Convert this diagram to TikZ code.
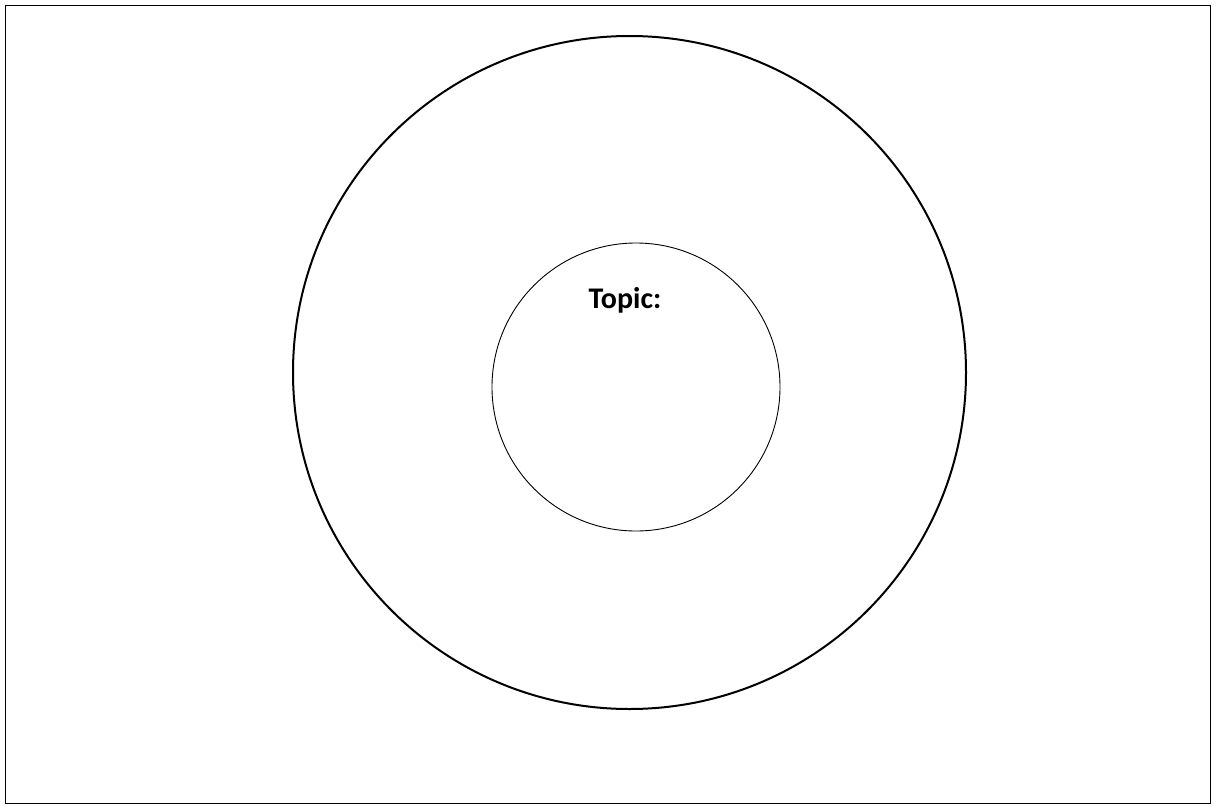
\documentclass[tikz,border=0pt]{standalone}
\usepackage{fontspec}
\setmainfont{Carlito}
\begin{document}
\begin{tikzpicture}[x=1pt,y=-1pt,
  frame/.style={draw=black,line width=1.3pt},
  outerring/.style={draw=black,line width=2pt},
  innerring/.style={draw=black,line width=0.9pt},
  label/.style={font=\fontsize{30}{34}\selectfont\bfseries,anchor=base,inner sep=0pt}]
\useasboundingbox (0,0) rectangle (1216,806);
\draw[frame] (5.5,5.5) rectangle (1210.5,803.5);
\node[outerring,circle,minimum size=673pt,inner sep=0pt] (outer) at (629.5,372.5) {};
\node[innerring,circle,minimum size=288pt,inner sep=0pt] (inner) at (636,387) {};
\node[label] (topic) at (625,308) {Topic:};
\end{tikzpicture}
\end{document}
